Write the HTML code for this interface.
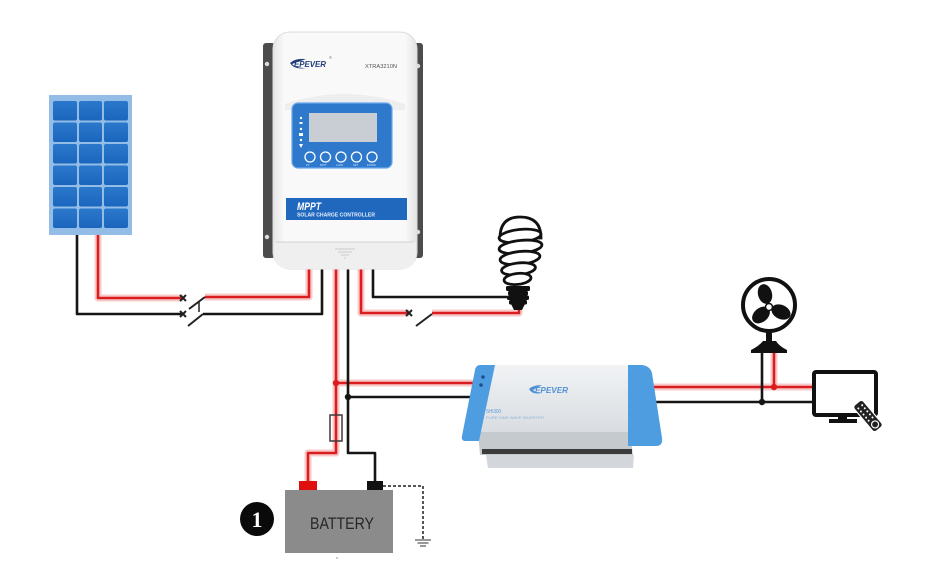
<!DOCTYPE html>
<html><head><meta charset="utf-8"><style>
html,body{margin:0;padding:0;background:#fff;}
svg{display:block;}
</style></head><body>
<svg width="931" height="588" viewBox="0 0 931 588" xmlns="http://www.w3.org/2000/svg" font-family="Liberation Sans, sans-serif">
<defs>
<linearGradient id="body" x1="0" y1="0" x2="1" y2="0">
<stop offset="0" stop-color="#e6e6e6"/><stop offset="0.08" stop-color="#f9f9f9"/><stop offset="0.92" stop-color="#f9f9f9"/><stop offset="1" stop-color="#e2e2e2"/>
</linearGradient>
<linearGradient id="invtop" x1="0" y1="0" x2="0" y2="1">
<stop offset="0" stop-color="#f1f3f5"/><stop offset="1" stop-color="#d9dde1"/>
</linearGradient>
<linearGradient id="cell" x1="0" y1="0" x2="0" y2="1">
<stop offset="0" stop-color="#2a78cc"/><stop offset="1" stop-color="#1b66bd"/>
</linearGradient>
</defs>

<!-- Solar panel -->
<rect x="49" y="95" width="83" height="140" fill="#93bde6"/>
<g fill="url(#cell)">
<rect x="53" y="101" width="24" height="19.5" rx="2"/><rect x="79" y="101" width="23" height="19.5" rx="2"/><rect x="104" y="101" width="24" height="19.5" rx="2"/>
<rect x="53" y="122.5" width="24" height="19.5" rx="2"/><rect x="79" y="122.5" width="23" height="19.5" rx="2"/><rect x="104" y="122.5" width="24" height="19.5" rx="2"/>
<rect x="53" y="144" width="24" height="19.5" rx="2"/><rect x="79" y="144" width="23" height="19.5" rx="2"/><rect x="104" y="144" width="24" height="19.5" rx="2"/>
<rect x="53" y="165.5" width="24" height="19.5" rx="2"/><rect x="79" y="165.5" width="23" height="19.5" rx="2"/><rect x="104" y="165.5" width="24" height="19.5" rx="2"/>
<rect x="53" y="187" width="24" height="19.5" rx="2"/><rect x="79" y="187" width="23" height="19.5" rx="2"/><rect x="104" y="187" width="24" height="19.5" rx="2"/>
<rect x="53" y="208.5" width="24" height="19.5" rx="2"/><rect x="79" y="208.5" width="23" height="19.5" rx="2"/><rect x="104" y="208.5" width="24" height="19.5" rx="2"/>
</g>

<!-- Red wire glow -->
<g fill="none" stroke="#f4b3b3" stroke-width="7" stroke-linejoin="round" opacity="0.7">
<polyline points="98,235 98,298 183,298"/>
<polyline points="205,297 309,297 309,268"/>
<polyline points="336,268 336,453 308,453 308,481"/>
<polyline points="361,268 361,313 409,313"/>
<polyline points="432,313 519,313 519,306"/>
<line x1="336" y1="383" x2="478" y2="383"/>
<line x1="652" y1="387" x2="813" y2="387"/>
<line x1="774" y1="352" x2="774" y2="387"/>
</g>
<!-- Red wires -->
<g fill="none" stroke="#dc1d1f" stroke-width="2.6" stroke-linejoin="round">
<polyline points="98,235 98,298 183,298"/>
<polyline points="205,297 309,297 309,268"/>
<polyline points="336,268 336,453 308,453 308,481"/>
<polyline points="361,268 361,313 409,313"/>
<polyline points="432,313 519,313 519,306"/>
<line x1="336" y1="383" x2="478" y2="383"/>
<line x1="652" y1="387" x2="813" y2="387"/>
<line x1="774" y1="352" x2="774" y2="387"/>
</g>
<!-- Black wires -->
<g fill="none" stroke="#151515" stroke-width="2.6" stroke-linejoin="round">
<polyline points="77,235 77,314 183,314"/>
<polyline points="203,314 322,314 322,268"/>
<polyline points="348,268 348,453 375,453 375,481"/>
<polyline points="373,268 373,297 507,297"/>
<line x1="348" y1="397" x2="472" y2="397"/>
<line x1="655" y1="402" x2="813" y2="402"/>
<line x1="762" y1="352" x2="762" y2="402"/>
</g>
<!-- switches -->
<g stroke="#222" stroke-width="2" fill="none">
<path d="M180,295 L186,301 M186,295 L180,301"/>
<path d="M180,311 L186,317 M186,311 L180,317"/>
<path d="M406,310 L412,316 M412,310 L406,316"/>
<line x1="189" y1="309" x2="205" y2="297"/>
<line x1="188" y1="326" x2="203" y2="314"/>
<line x1="199" y1="302" x2="199" y2="312" stroke-width="1.5"/>
<line x1="416" y1="326" x2="432" y2="314"/>
</g>
<!-- junction dots -->
<circle cx="336" cy="383" r="3.2" fill="#dc1d1f"/>
<circle cx="348" cy="397" r="3.2" fill="#151515"/>
<circle cx="774" cy="387" r="3.2" fill="#dc1d1f"/>
<circle cx="762" cy="402" r="3.2" fill="#151515"/>
<!-- fuse -->
<rect x="330" y="415" width="12" height="26" fill="none" stroke="#3a3a3a" stroke-width="1.5"/>

<!-- Controller -->
<rect x="263" y="43" width="12" height="215" rx="3" fill="#4c4c4c"/>
<rect x="411" y="43" width="12" height="215" rx="3" fill="#4c4c4c"/>
<circle cx="267" cy="64" r="2.2" fill="#ddd"/><circle cx="267" cy="237" r="2.2" fill="#ddd"/>
<circle cx="418" cy="66" r="2.2" fill="#ddd"/><circle cx="418" cy="232" r="2.2" fill="#ddd"/>
<rect x="273" y="32" width="144" height="237" rx="17" fill="url(#body)" stroke="#dcdcdc" stroke-width="1"/>
<path d="M274,242 L416,242 L416,254 Q416,269 400,269 L290,269 Q274,269 274,254 Z" fill="#efefef"/>
<line x1="276" y1="242" x2="414" y2="242" stroke="#d2d2d2" stroke-width="1"/>
<path d="M335,249 L355,249 M338,252 L352,252 M341,255 L349,255 M344,258 L346,258" stroke="#c8c8c8" stroke-width="1"/>
<path d="M285,104 Q345,84 405,104 L405,110 L285,110 Z" fill="#eeeeee"/>
<!-- logo -->
<path d="M290,63 Q295,58 306,59 L292,64 Q296,68 306,68 Q294,70 290,63 Z" fill="#1f3d7a"/>
<text x="294" y="67" font-size="8" font-weight="bold" font-style="italic" fill="#1f3d7a" textLength="32" lengthAdjust="spacingAndGlyphs">EPEVER</text>
<text x="329" y="59" font-size="4" fill="#777">®</text>
<text x="365" y="68" font-size="5.5" fill="#555" textLength="32" lengthAdjust="spacingAndGlyphs">XTRA3210N</text>
<!-- display panel -->
<rect x="292" y="103" width="100" height="65" rx="6" fill="#2f79cd" stroke="#6aa9ea" stroke-width="1.2"/>
<rect x="309" y="113" width="68" height="29" fill="#c9ced4"/>
<g fill="#fff">
<circle cx="301" cy="118" r="1.2"/><rect x="299.5" y="122" width="3" height="2"/><circle cx="301" cy="129" r="1.2"/>
<rect x="299" y="133" width="4" height="3"/><circle cx="301" cy="140" r="1.2"/><path d="M299,144 L303,144 L301,148 Z"/>
</g>
<g fill="none" stroke="#fff" stroke-width="1.3">
<circle cx="310" cy="157" r="5"/><circle cx="325.5" cy="157" r="5"/><circle cx="341" cy="157" r="5"/><circle cx="356.5" cy="157" r="5"/><circle cx="372" cy="157" r="5"/>
</g>
<g fill="#cfe2f7" font-size="2.6">
<text x="306" y="166">PV</text><text x="320" y="166">BATT</text><text x="336" y="166">LOAD</text><text x="353" y="166">SET</text><text x="367" y="166">ENTER</text>
</g>
<!-- MPPT banner -->
<rect x="286" y="198" width="121" height="22" fill="#2068be"/>
<text x="297" y="210" font-size="11" font-weight="bold" font-style="italic" fill="#fff" textLength="24" lengthAdjust="spacingAndGlyphs">MPPT</text>
<text x="297" y="216.5" font-size="5" font-weight="bold" fill="#e6f0fb" textLength="78" lengthAdjust="spacingAndGlyphs">SOLAR CHARGE CONTROLLER</text>

<!-- Bulb -->
<g stroke="#111" stroke-width="2.8" fill="#fff">
<path d="M500,238 Q500,217 520,217 Q541,217 541,238 Z"/>
<ellipse cx="520" cy="236" rx="21" ry="6.5" transform="rotate(-6 520 236)"/>
<ellipse cx="520.5" cy="247" rx="21.5" ry="6.5" transform="rotate(-6 520 247)"/>
<ellipse cx="520" cy="258" rx="20" ry="6.5" transform="rotate(-6 520 258)"/>
<ellipse cx="518.5" cy="269" rx="17" ry="6" transform="rotate(-6 518 269)"/>
<ellipse cx="517.5" cy="279" rx="13.5" ry="5.5" transform="rotate(-6 517 279)"/>
</g>
<g fill="#111">
<rect x="506" y="286" width="24" height="5" rx="1.5"/>
<rect x="508" y="291" width="20" height="4.5" rx="1.5"/>
<rect x="507" y="295.5" width="22" height="4.5" rx="1.5"/>
<rect x="509" y="300" width="18" height="4.5" rx="1.5"/>
<path d="M511,304 L525,304 L522,310 L514,310 Z"/>
</g>

<!-- Inverter -->
<path d="M494,365 L630,365 L630,432 L478,432 Z" fill="url(#invtop)"/>
<path d="M478,432 L630,432 L633,455 L480,455 Z" fill="#c5cace"/>
<path d="M482,449 L632,449 L632,454 L482,454 Z" fill="#3c3c3c"/>
<path d="M486,455 L634,455 L633,468 L488,468 Z" fill="#d3d7db"/>
<path d="M480,365 L495,365 L479,441 L465,441 Q461,441 462,436 L475,370 Q476,365 480,365 Z" fill="#4d9de0"/>
<path d="M628,365 L642,365 Q650,366 652,373 L662,438 Q663,446 656,446 L628,446 Z" fill="#4d9de0"/>
<circle cx="483" cy="377" r="1.8" fill="#1d4f8a"/><circle cx="481" cy="385" r="1.8" fill="#1d4f8a"/>
<path d="M529,389 Q533,385 542,385 L533,390 Q536,393 542,393 Q532,395 529,389 Z" fill="#4f91d6"/>
<text x="535" y="393" font-size="8" font-weight="bold" font-style="italic" fill="#4f91d6" textLength="33" lengthAdjust="spacingAndGlyphs">EPEVER</text>
<text x="486" y="413" font-size="5" fill="#5c9ad8" textLength="15" lengthAdjust="spacingAndGlyphs">SHI300</text>
<text x="486" y="419" font-size="3.5" fill="#8fb3d8" textLength="58" lengthAdjust="spacingAndGlyphs">PURE SINE WAVE INVERTER</text>

<!-- Fan -->
<circle cx="769" cy="305" r="26" fill="#fff" stroke="#111" stroke-width="4"/>
<ellipse cx="765" cy="294" rx="7" ry="10" transform="rotate(-15 765 294)" fill="#111"/>
<ellipse cx="781" cy="312" rx="10" ry="7" transform="rotate(25 781 312)" fill="#111"/>
<ellipse cx="761" cy="315" rx="10" ry="7" transform="rotate(-40 761 315)" fill="#111"/>
<circle cx="769" cy="307" r="3.5" fill="#fff" stroke="#111" stroke-width="1.5"/>
<rect x="766" y="330" width="6" height="12" fill="#111"/>
<path d="M763,341 L776,341 Q779,346 787,350 L787,353 L751,353 L751,350 Q759,346 763,341 Z" fill="#111"/>

<!-- TV -->
<rect x="814" y="372" width="62" height="43" rx="2" fill="#fff" stroke="#111" stroke-width="4"/>
<rect x="838" y="415" width="9" height="5" fill="#111"/>
<rect x="829" y="419" width="28" height="4" fill="#111"/>
<g transform="rotate(50 868 416)">
<rect x="851" y="410" width="34" height="12" rx="3" fill="#222" stroke="#fff" stroke-width="1.2"/>
<g fill="#fff"><circle cx="856" cy="413.5" r="1"/><circle cx="856" cy="418.5" r="1"/><circle cx="860" cy="413.5" r="1"/><circle cx="860" cy="418.5" r="1"/><circle cx="864" cy="413.5" r="1"/><circle cx="864" cy="418.5" r="1"/><circle cx="868" cy="413.5" r="1"/><circle cx="868" cy="418.5" r="1"/><circle cx="872" cy="413.5" r="1"/><circle cx="872" cy="418.5" r="1"/></g>
<circle cx="879" cy="416" r="3.5" fill="none" stroke="#fff" stroke-width="1.2"/>
</g>

<!-- Battery -->
<rect x="299" y="481" width="18" height="10" fill="#e0100f"/>
<rect x="367" y="481" width="16" height="10" fill="#111"/>
<rect x="285" y="490" width="108" height="63" fill="#8b8b8b"/>
<text x="342" y="529" font-size="17" fill="#262626" text-anchor="middle" textLength="64" lengthAdjust="spacingAndGlyphs">BATTERY</text>
<circle cx="337" cy="558" r="1" fill="#bbb"/>
<polyline points="383,486 423,486 423,540" fill="none" stroke="#555" stroke-width="2" stroke-dasharray="3,2"/>
<g stroke="#777" stroke-width="1.5">
<line x1="415" y1="540" x2="431" y2="540"/><line x1="417.5" y1="543" x2="428.5" y2="543"/><line x1="420" y1="546" x2="426" y2="546"/>
</g>
<circle cx="257" cy="519" r="17" fill="#0a0a0a"/>
<text x="257" y="527" font-size="22" font-weight="bold" fill="#fff" text-anchor="middle" font-family="Liberation Serif, serif">1</text>
</svg>
</body></html>
